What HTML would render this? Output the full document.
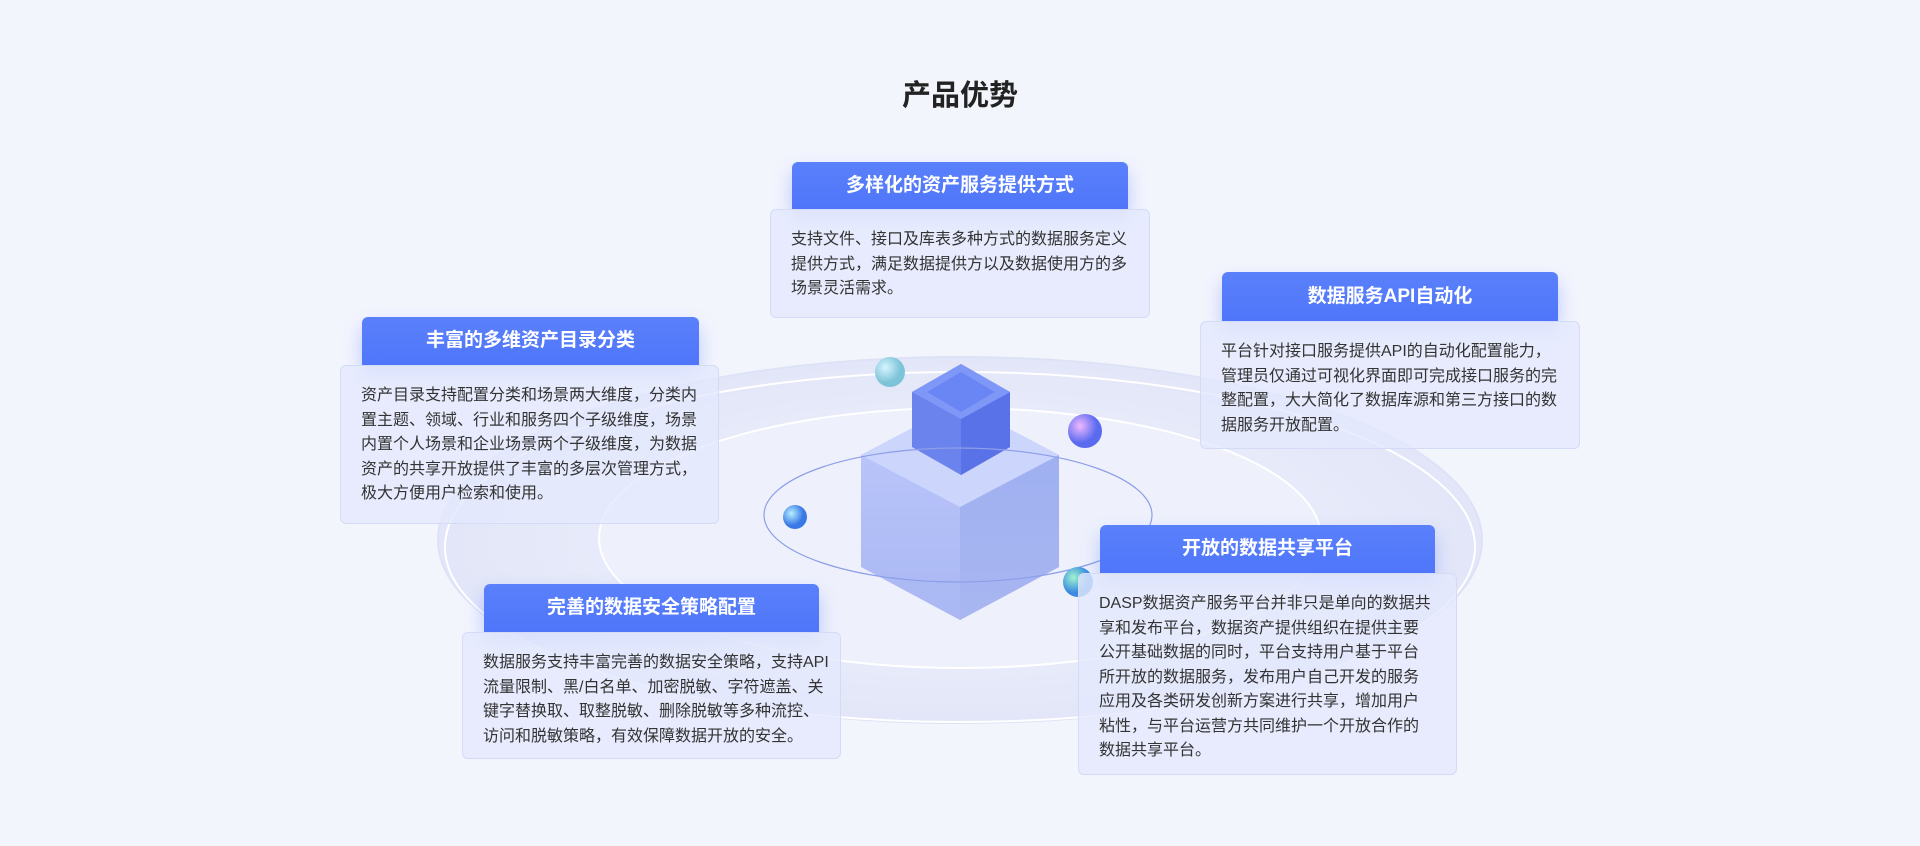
<!DOCTYPE html>
<html><head><meta charset="utf-8"><style>
*{margin:0;padding:0;box-sizing:border-box}
body{width:1920px;height:846px;overflow:hidden;background:#f3f5fd;font-family:"Liberation Sans","Noto Sans CJK SC",sans-serif;position:relative}
.title{position:absolute;left:0;width:1920px;top:72px;text-align:center;font-size:29px;font-weight:bold;color:#222}
.hd{position:absolute;background:linear-gradient(#5a80fb,#4f76fa);border-radius:6px 6px 0 0;color:#fff;font-weight:bold;font-size:19px;text-align:center;box-shadow:0 10px 18px rgba(80,115,250,.35)}
.bd{position:absolute;background:rgba(228,233,253,.8);border:1px solid #d3dbf7;border-radius:6px;color:#333;font-size:16px;line-height:24.5px;padding:18px 20px 0 20px;white-space:nowrap}
</style></head><body>
<svg width="1920" height="846" style="position:absolute;left:0;top:0">
<defs>
<radialGradient id="disc" cx="50%" cy="50%" r="50%"><stop offset="0" stop-color="#f2f4fd"/><stop offset="1" stop-color="#e2e6f8"/></radialGradient>
<linearGradient id="cl" x1="0" y1="0" x2="0" y2="1"><stop offset="0" stop-color="#bdc8fb"/><stop offset="1" stop-color="#a9b7f3"/></linearGradient>
<linearGradient id="cr" x1="0" y1="0" x2="0" y2="1"><stop offset="0" stop-color="#9fb0f1"/><stop offset="1" stop-color="#a8b6f1"/></linearGradient>
<radialGradient id="s1" cx="35%" cy="35%"><stop offset="0" stop-color="#d6f5ff"/><stop offset="1" stop-color="#7ec4d8"/></radialGradient>
<radialGradient id="s2" cx="35%" cy="35%"><stop offset="0" stop-color="#f0b8ff"/><stop offset="1" stop-color="#5a6bf0"/></radialGradient>
<radialGradient id="s3" cx="35%" cy="35%"><stop offset="0" stop-color="#b5f0ff"/><stop offset="1" stop-color="#3a78e6"/></radialGradient>
<radialGradient id="s4" cx="35%" cy="35%"><stop offset="0" stop-color="#9ff5d0"/><stop offset="1" stop-color="#3a8ae0"/></radialGradient>
</defs>
<ellipse cx="960" cy="540" rx="522" ry="183" fill="url(#disc)" stroke="#dde2f6" stroke-width="2"/>
<ellipse cx="960" cy="547" rx="515" ry="175" fill="none" stroke="#ffffff" stroke-width="2"/>
<ellipse cx="960" cy="538" rx="361" ry="130" fill="#eef1fc" stroke="#ffffff" stroke-width="2"/>
<path d="M960 403 L1059 455 L1059 567 L960 620 L861 567 L861 455 Z" fill="url(#cl)"/>
<path d="M960 507 L1059 455 L1059 567 L960 620 Z" fill="url(#cr)"/>
<path d="M960 403 L1059 455 L960 507 L861 455 Z" fill="#ccd5fc"/>
<path d="M961 364 L1010 392 L1010 447 L961 475 L912 447 L912 392 Z" fill="#6b83ec"/>
<path d="M961 419 L1010 392 L1010 447 L961 475 Z" fill="#5a72e8"/>
<path d="M961 364 L1010 392 L961 419 L912 392 Z" fill="#7f98f8"/>
<path d="M961 372 L995 392 L961 412 L927 392 Z" fill="#6a86f4"/>
<ellipse cx="958" cy="515" rx="194" ry="67" fill="none" stroke="#8c9ee8" stroke-width="1.2"/>
<circle cx="890" cy="372" r="15" fill="url(#s1)"/>
<circle cx="1085" cy="431" r="17" fill="url(#s2)"/>
<circle cx="795" cy="517" r="12" fill="url(#s3)"/>
<circle cx="1078" cy="582" r="15" fill="url(#s4)"/>
</svg>
<div class="title">产品优势</div>

<div class="hd" style="left:792px;top:162px;width:336px;height:47px;line-height:47px">多样化的资产服务提供方式</div>
<div class="bd" style="left:770px;top:209px;width:380px;height:109px">支持文件、接口及库表多种方式的数据服务定义<br>提供方式，满足数据提供方以及数据使用方的多<br>场景灵活需求。</div>

<div class="hd" style="left:1222px;top:272px;width:336px;height:49px;line-height:49px">数据服务API自动化</div>
<div class="bd" style="left:1200px;top:321px;width:380px;height:128px">平台针对接口服务提供API的自动化配置能力，<br>管理员仅通过可视化界面即可完成接口服务的完<br>整配置，大大简化了数据库源和第三方接口的数<br>据服务开放配置。</div>

<div class="hd" style="left:362px;top:317px;width:337px;height:48px;line-height:48px">丰富的多维资产目录分类</div>
<div class="bd" style="left:340px;top:365px;width:379px;height:159px">资产目录支持配置分类和场景两大维度，分类内<br>置主题、领域、行业和服务四个子级维度，场景<br>内置个人场景和企业场景两个子级维度，为数据<br>资产的共享开放提供了丰富的多层次管理方式，<br>极大方便用户检索和使用。</div>

<div class="hd" style="left:484px;top:584px;width:335px;height:48px;line-height:48px">完善的数据安全策略配置</div>
<div class="bd" style="left:462px;top:632px;width:379px;height:127px">数据服务支持丰富完善的数据安全策略，支持API<br>流量限制、黑/白名单、加密脱敏、字符遮盖、关<br>键字替换取、取整脱敏、删除脱敏等多种流控、<br>访问和脱敏策略，有效保障数据开放的安全。</div>

<div class="hd" style="left:1100px;top:525px;width:335px;height:48px;line-height:48px">开放的数据共享平台</div>
<div class="bd" style="left:1078px;top:573px;width:379px;height:202px">DASP数据资产服务平台并非只是单向的数据共<br>享和发布平台，数据资产提供组织在提供主要<br>公开基础数据的同时，平台支持用户基于平台<br>所开放的数据服务，发布用户自己开发的服务<br>应用及各类研发创新方案进行共享，增加用户<br>粘性，与平台运营方共同维护一个开放合作的<br>数据共享平台。</div>
</body></html>
